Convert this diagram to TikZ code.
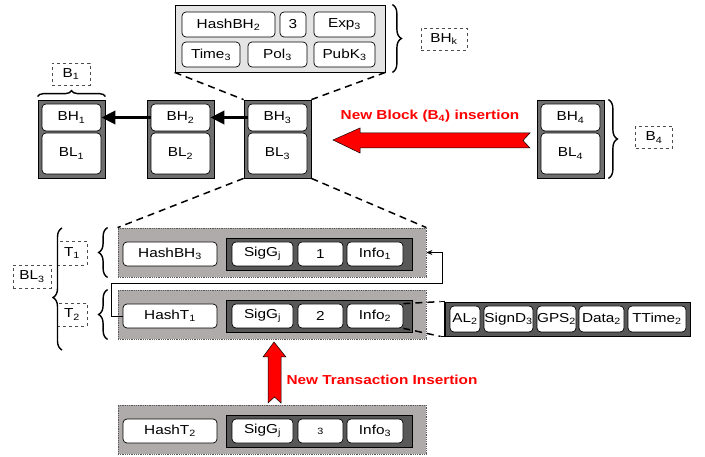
\documentclass[tikz,border=0pt]{standalone}
\usepackage{xcolor}
\usepackage{fontspec}
\setmainfont[FakeStretch=1.18]{Liberation Sans}
\usetikzlibrary{decorations.pathreplacing,arrows.meta}

\definecolor{blockgray}{RGB}{110,110,110}
\definecolor{headgray}{RGB}{228,228,228}
\definecolor{rowgray}{RGB}{176,171,171}
\definecolor{siggray}{RGB}{88,88,88}

\tikzset{
	sz/.style 2 args={minimum width=#1pt, minimum height=#2pt},
	cell/.style={draw, fill=white, rounded corners=4pt, inner sep=0pt, line width=0.7pt, font=\fontsize{13}{15}\selectfont},
	blockbox/.style={draw, fill=blockgray, inner sep=0pt, line width=0.8pt},
	headbox/.style={draw, fill=headgray, inner sep=0pt, line width=0.8pt},
	rowbox/.style={draw=black!65, densely dotted, fill=rowgray, inner sep=0pt, line width=0.8pt},
	sigbox/.style={draw, fill=siggray, inner sep=0pt, line width=0.8pt},
	tag/.style={draw=black!70, dashed, inner sep=0pt, line width=0.7pt, font=\fontsize{13}{15}\selectfont},
	zoomline/.style={line width=1.5pt, dash pattern=on 7pt off 5pt},
	bracebar/.style={decorate, decoration={brace, amplitude=9pt}, line width=1.4pt},
	chainarrow/.style={line width=3.5pt, -{Triangle[length=14pt,width=13pt]}},
	bigarrow/.style={draw=black, fill=red, line width=0.5pt},
	redlabel/.style={text=red, font=\bfseries\fontsize{13}{15}\selectfont},
}

\begin{document}
\begin{tikzpicture}[x=1pt, y=-1pt, >=stealth]
	\useasboundingbox (0,0) rectangle (705,457);

	% Block header content
	\node[headbox, sz={210}{67}] (bhk) at (280,38.5) {};
	\node[cell, sz={93}{25}] (hbh2) at (228.5,24.5) {HashBH\textsubscript{2}};
	\node[cell, sz={26}{25}] (num3) at (293,24.5) {3};
	\node[cell, sz={61}{25}] (exp3) at (344.5,24.5) {Exp\textsubscript{3}};
	\node[cell, sz={58}{25}] (time3) at (211,54.5) {Time\textsubscript{3}};
	\node[cell, sz={59}{25}] (pol3) at (277.5,54.5) {Pol\textsubscript{3}};
	\node[cell, sz={61}{25}] (pubk3) at (344.5,54.5) {PubK\textsubscript{3}};
	\draw[bracebar] ([xshift=7pt]bhk.north east) -- ([xshift=7pt]bhk.south east);
	\node[tag, sz={46}{22}] (bhktag) at (444,39) {BH\textsubscript{k}};

	% Chain of blocks
	\foreach \i/\x in {1/71.5, 2/180.5, 3/277.5, 4/570.5} {
		\node[blockbox, sz={67}{78}] (b\i) at (\x,139) {};
		\node[cell, sz={59}{27}] (bh\i) at (\x,117.5) {BH\textsubscript{\i}};
		\node[cell, sz={59}{41}] (bl\i) at (\x,153.5) {BL\textsubscript{\i}};
	}
	\draw[chainarrow] (bh3.west) -- (bh2.east);
	\draw[chainarrow] (bh2.west) -- (bh1.east);

	% Block labels
	\node[tag, sz={38}{22}] (b1tag) at (71,74) {B\textsubscript{1}};
	\draw[bracebar, decoration={amplitude=6pt}] ([yshift=3pt]b1.north west) -- ([yshift=3pt]b1.north east);
	\draw[bracebar] ([xshift=4pt]b4.north east) -- ([xshift=4pt]b4.south east);
	\node[tag, sz={37}{22}] (b4tag) at (654,137.5) {B\textsubscript{4}};

	% New block arrow
	\draw[bigarrow] (333,140) -- (360,128) -- (360,133) -- (530,133) -- (523,140.5) -- (530,148) -- (360,148) -- (360,153) -- cycle;
	\node[redlabel] (newblock) at (430,116) {New Block (B\textsubscript{4}) insertion};

	% Transactions
	\foreach \r/\y/\hash/\no in {1/254/{HashBH\textsubscript{3}}/1, 2/316/{HashT\textsubscript{1}}/2, 3/431/{HashT\textsubscript{2}}/{\textsubscript{3}}} {
		\node[rowbox, sz={308}{49}] (t\r) at (272,\y-1.5) {};
		\node[sigbox, sz={186}{32}] (sg\r) at (319,\y) {};
		\node[cell, sz={94}{24}] (hash\r) at (170,\y) {\hash};
		\node[cell, sz={61}{24}] (sig\r) at (262.5,\y) {SigG\textsubscript{j}};
		\node[cell, sz={45}{24}] (no\r) at (320.5,\y) {\no};
		\node[cell, sz={56}{24}] (info\r) at (375,\y) {Info\textsubscript{\r}};
	}

	% Zoom lines
	\draw[zoomline] (bhk.south west) -- (b3.north west);
	\draw[zoomline] (bhk.south east) -- (b3.north east);
	\draw[zoomline] (b3.south west) -- (t1.north west);
	\draw[zoomline] (b3.south east) -- (t1.north east);

	% Hash link between transactions
	\coordinate (loopR) at (442,283);
	\draw[-{Stealth[length=6pt,width=5pt]}, line width=0.6pt] (hash2.west) -- ++(-11,0) |- (loopR) |- (t1.east);

	% Transaction details
	\node[sigbox, sz={245}{34}] (detail) at (567.5,319) {};
	\node[cell, sz={30}{26}] (al2) at (465,319) {AL\textsubscript{2}};
	\node[cell, sz={49}{26}] (signd3) at (508.5,319) {SignD\textsubscript{3}};
	\node[cell, sz={39}{26}] (gps2) at (556.5,319) {GPS\textsubscript{2}};
	\node[cell, sz={45}{26}] (data2) at (601.5,319) {Data\textsubscript{2}};
	\node[cell, sz={58}{26}] (ttime2) at (657,319) {TTime\textsubscript{2}};
	\draw[line width=1.5pt] ([xshift=-4pt]detail.north west) -- (detail.north west) -- (detail.south west) -- ([xshift=-4pt]detail.south west);
	\draw[zoomline] (info2.north east) -- ([xshift=-4pt]detail.north west);
	\draw[zoomline] (info2.south east) -- ([xshift=-4pt]detail.south west);

	% Braces on the left
	\draw[bracebar] ([xshift=-10pt]t1.south west) -- ([xshift=-10pt]t1.north west);
	\draw[bracebar] ([xshift=-10pt]t2.south west) -- ([xshift=-10pt]t2.north west);
	\node[tag, sz={30}{24}] (t1tag) at (72,253) {T\textsubscript{1}};
	\node[tag, sz={30}{23}] (t2tag) at (72,314.5) {T\textsubscript{2}};
	\draw[bracebar, decoration={aspect=0.43}] (62,350) -- (62,228);
	\node[tag, sz={38}{23}] (bl3tag) at (32,276.5) {BL\textsubscript{3}};

	% New transaction arrow
	\draw[bigarrow] (274,342) -- (286,357) -- (281,357) -- (281,403) -- (274.5,397) -- (268,403) -- (268,357) -- (263,357) -- cycle;
	\node[redlabel, anchor=west] (newtx) at (283,380) {New Transaction Insertion};

\end{tikzpicture}
\end{document}
